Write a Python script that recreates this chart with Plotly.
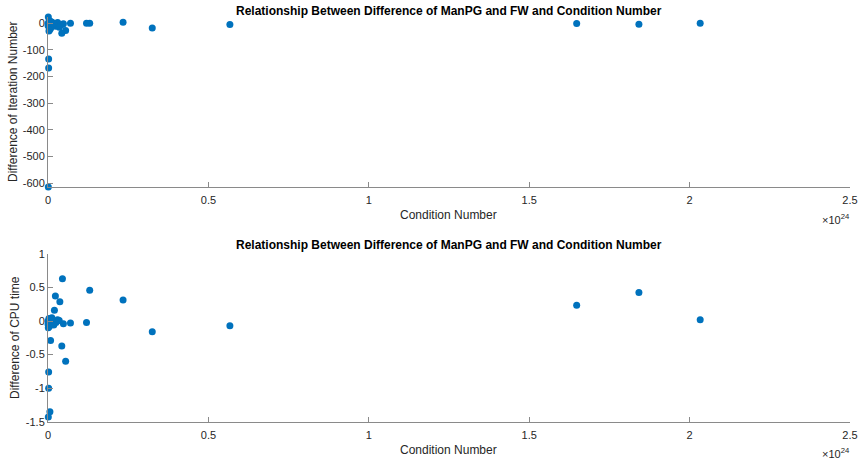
import plotly.graph_objects as go

# Condition numbers (shared by both panels)
condition_number = [2.033e24, 1.842e24, 1.648e24, 0.567e24, 0.325e24, 0.234e24, 0.130e24,
                    0.120e24, 0.070e24, 0.055e24, 0.048e24, 0.045e24, 0.043e24, 0.037e24,
                    0.030e24, 0.023e24, 0.020e24, 0.015e24, 0.010e24, 0.008e24, 0.006e24,
                    0.005e24, 0.004e24, 0.003e24, 0.002e24, 0.002e24, 0.001e24, 0.001e24,
                    0.0005e24, 0.0003e24, 0.025e24, 0.012e24, 0.035e24, 0.018e24]
iter_diff = [0, -4, -1, -5, -18, 3, 0,
             0, 0, -28, -2, -5, -38, -10,
             2, -12, 0, -8, 5, -20, -3,
             -25, 10, -30, -135, -168, -615, 23,
             0, -10, -5, 3, -15, -2]
cpu_diff = [0.02, 0.425, 0.237, -0.07, -0.16, 0.315, 0.46,
            -0.02, -0.03, -0.60, -0.04, 0.63, -0.37, 0.29,
            0.02, 0.375, 0.16, -0.05, 0.03, -0.29, -1.35,
            0.0, -0.08, 0.04, -0.76, -1.0, -1.43, -0.1,
            0.0, -0.05, -0.02, 0.05, 0.01, -0.06]

x_ticks = [0, 0.5, 1, 1.5, 2, 2.5]
x_ticktext = ["0", "0.5", "1", "1.5", "2", "2.5"]
iter_ticks = [-600, -500, -400, -300, -200, -100, 0]
iter_ticktext = ["-600", "-500", "-400", "-300", "-200", "-100", "0"]
cpu_ticks = [-1.5, -1, -0.5, 0, 0.5, 1]
cpu_ticktext = ["-1.5", "-1", "-0.5", "0", "0.5", "1"]

title_text = "Relationship Between Difference of ManPG and FW and Condition Number"
xscale = 1e24
xs = [c / xscale for c in condition_number]

W, H = 862, 462
def px(x): return x / W
def py(y): return 1 - y / H

BLUE = "#0072BD"
TXT = "#262626"
LINE = "#8a8a8a"
FONT = "Liberation Sans, Arial, Helvetica, sans-serif"

fig = go.Figure()
fig.add_trace(go.Scatter(x=xs, y=iter_diff, mode="markers", xaxis="x", yaxis="y",
                         marker=dict(color=BLUE, size=7), cliponaxis=False, showlegend=False))
fig.add_trace(go.Scatter(x=xs, y=cpu_diff, mode="markers", xaxis="x2", yaxis="y2",
                         marker=dict(color=BLUE, size=7), cliponaxis=False, showlegend=False))

axis_common = dict(showgrid=False, zeroline=False, showline=True, linecolor=LINE, linewidth=1,
                   ticks="inside", ticklen=5, tickcolor=LINE, automargin=False,
                   tickfont=dict(family=FONT, size=11, color=TXT))

fig.update_layout(
    width=W, height=H, margin=dict(l=0, r=0, t=0, b=0, autoexpand=False),
    plot_bgcolor="white", paper_bgcolor="white",
    font=dict(family=FONT, color=TXT),
    xaxis=dict(domain=[px(48), px(850)], range=[0, 2.5], tickvals=x_ticks, ticktext=x_ticktext,
               anchor="y", ticklabelstandoff=3, **axis_common),
    yaxis=dict(domain=[py(187), py(17)], range=[min(iter_diff), max(iter_diff)],
               tickvals=iter_ticks, ticktext=iter_ticktext, anchor="x", **axis_common),
    xaxis2=dict(domain=[px(48), px(850)], range=[0, 2.5], tickvals=x_ticks, ticktext=x_ticktext,
                anchor="y2", ticklabelstandoff=3, **axis_common),
    yaxis2=dict(domain=[py(421.7), py(254)], range=[-1.5, 1], tickvals=cpu_ticks,
                ticktext=cpu_ticktext, anchor="x2", **axis_common),
)

ann = []
for ty, xl_y, ex_y, yl_x, yl_y, ylab in [
        (11, 215, 219, 13, 102, "Difference of Iteration Number"),
        (245, 450, 453, 15, 338, "Difference of CPU time")]:
    ann.append(dict(text="<b>" + title_text + "</b>", x=px(449), y=py(ty), xref="paper", yref="paper",
                    xanchor="center", yanchor="middle",
                    showarrow=False, font=dict(size=12, color="black", family=FONT)))
    ann.append(dict(text="Condition Number", x=px(449), y=py(xl_y), xref="paper", yref="paper",
                    xanchor="center", yanchor="middle",
                    showarrow=False, font=dict(size=12, color=TXT, family=FONT)))
    ann.append(dict(text="×10<sup>24</sup>", x=px(852), y=py(ex_y), xref="paper", yref="paper",
                    xanchor="right", yanchor="middle",
                    showarrow=False, font=dict(size=11, color=TXT, family=FONT)))
    ann.append(dict(text=ylab, x=px(yl_x), y=py(yl_y), xref="paper", yref="paper", textangle=-90,
                    xanchor="center", yanchor="middle",
                    showarrow=False, font=dict(size=12, color=TXT, family=FONT)))
fig.update_layout(annotations=ann)

fig.write_html("out.html", config={"displayModeBar": False},
               post_script="document.body.style.margin='0';document.body.style.padding='0';")
